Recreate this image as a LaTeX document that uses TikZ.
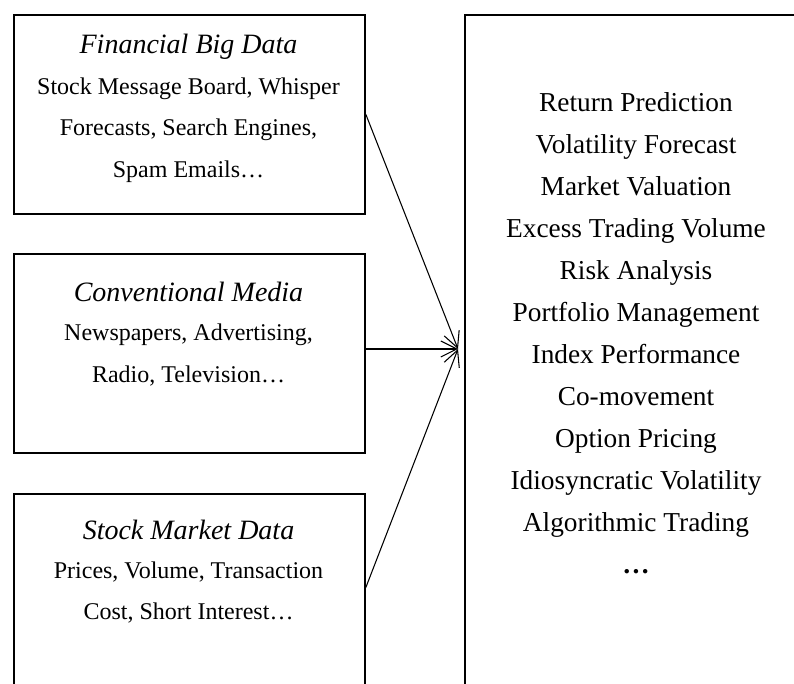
\documentclass[tikz,border=0pt]{standalone}
\usepackage{fontspec}
\setmainfont{Liberation Serif}
\usetikzlibrary{arrows.meta}
\tikzset{
  srcbox/.style = {draw, line width=1.4pt, inner sep=0pt, anchor=north west,
                   minimum width=263.25pt, minimum height=149.25pt},
  appbox/.style = {draw, line width=1.4pt, inner sep=0pt, anchor=north west,
                   minimum width=300pt, minimum height=560pt},
  headtxt/.style = {font=\fontsize{21}{25}\selectfont\itshape, inner sep=0pt},
  bodytxt/.style = {font=\fontsize{18}{31.2}\selectfont, align=center, inner sep=0pt},
  listtxt/.style = {font=\fontsize{20.5}{31.5}\selectfont, align=center, inner sep=0pt}
}
\begin{document}
\begin{tikzpicture}[x=0.75pt, y=-0.75pt, >={Straight Barb[length=12pt,width=12pt]}]
\useasboundingbox (0,0) rectangle (794,684); % page size of the reference
% source boxes on the left
\node[srcbox] (fbd) at (13,14) {};
\node[srcbox] (cmedia) at (13,253) {};
\node[srcbox] (smd) at (13,493) {};
\node[headtxt] (fbdhead) at (188.5,47) {Financial Big Data};
\node[bodytxt] (fbdbody) at (188.5,130) {Stock Message Board, Whisper\\Forecasts, Search Engines,\\Spam Emails\ldots};
\node[headtxt] (cmhead) at (188.5,292) {Conventional Media};
\node[bodytxt] (cmbody) at (188.5,355) {Newspapers, Advertising,\\Radio, Television\ldots};
\node[headtxt] (smdhead) at (188.5,530) {Stock Market Data};
\node[bodytxt] (smdbody) at (188.5,592.5) {Prices, Volume, Transaction\\Cost, Short Interest\ldots};
% box of applications on the right, runs off the page
\node[appbox] (apps) at (464,14) {};
\node[listtxt] (tasks) at (636,333) {Return Prediction\\Volatility Forecast\\Market Valuation\\
  Excess Trading Volume\\Risk Analysis\\Portfolio Management\\Index Performance\\
  Co-movement\\Option Pricing\\Idiosyncratic Volatility\\Algorithmic Trading\\\textbf{\ldots}};
% arrows meet in one point
\coordinate (hit) at (458,349);
\draw[line width=0.8pt, ->] (fbd.east) -- (hit);
\draw[line width=0.8pt, ->] (cmedia.east |- hit) -- (hit);
\draw[line width=0.8pt, ->] ([yshift=4.5pt]smd.east) -- (hit);
\end{tikzpicture}
\end{document}
